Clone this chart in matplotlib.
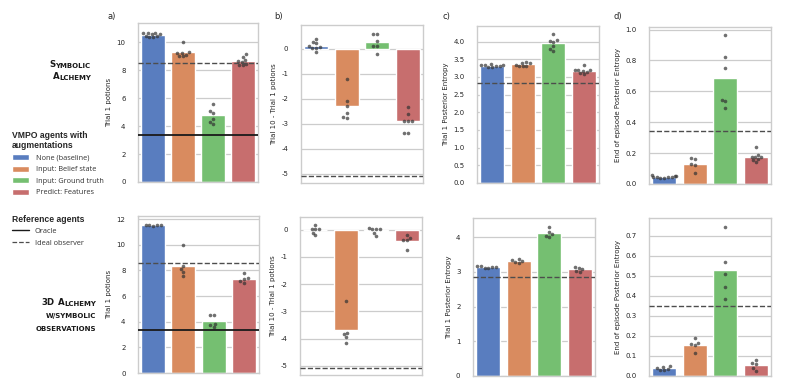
import matplotlib
matplotlib.use("Agg")
import matplotlib.pyplot as plt
import matplotlib.ticker as mticker
import seaborn as sns
import pandas as pd
from matplotlib.patches import Patch
from matplotlib.lines import Line2D

agents = ["None (baseline)", "Input: Belief state", "Input: Ground truth", "Predict: Features"]

# Symbolic Alchemy (top row)
sym_trial1 = [
    [10.62, 10.66, 10.58, 10.45, 10.38, 10.36, 10.42, 10.6, 10.68],
    [10.0, 9.3, 9.25, 9.2, 9.1, 9.0, 9.0],
    [5.55, 5.07, 4.95, 4.52, 4.29, 4.14],
    [9.12, 8.95, 8.75, 8.65, 8.6, 8.45, 8.38, 8.35],
]
sym_diff = [
    [0.4, 0.28, 0.25, 0.1, 0.06, 0.04, 0.02, -0.14],
    [-1.22, -2.08, -2.28, -2.58, -2.72, -2.75],
    [0.6, 0.6, 0.33, 0.12, 0.12, -0.19],
    [-2.32, -2.61, -2.87, -2.87, -2.87, -3.35, -3.37],
]
sym_entropy1 = [
    [3.37, 3.35, 3.33, 3.3, 3.28, 3.27, 3.3, 3.35],
    [3.42, 3.4, 3.38, 3.35, 3.32, 3.3, 3.3],
    [4.21, 4.05, 4.02, 4.0, 3.87, 3.78, 3.73],
    [3.33, 3.2, 3.2, 3.19, 3.18, 3.14, 3.1, 3.07],
]
sym_entropy_end = [
    [0.058, 0.052, 0.048, 0.044, 0.04, 0.042, 0.044, 0.048, 0.054],
    [0.168, 0.16, 0.13, 0.12, 0.072],
    [0.967, 0.822, 0.753, 0.547, 0.54, 0.495],
    [0.24, 0.19, 0.178, 0.175, 0.172, 0.16, 0.155, 0.142],
]

# 3D Alchemy w/ symbolic observations (bottom row)
d3_trial1 = [
    [11.5, 11.48, 11.5, 11.52, 11.5],
    [9.97, 8.34, 8.1, 7.9, 7.54],
    [4.5, 4.5, 3.85, 3.75, 3.6],
    [7.8, 7.38, 7.35, 7.15, 7.05],
]
d3_diff = [
    [0.16, 0.04, 0.03, 0.02, -0.1, -0.2],
    [-2.63, -3.8, -3.82, -3.93, -4.18],
    [0.06, 0.04, 0.03, 0.02, -0.13, -0.24],
    [-0.18, -0.3, -0.37, -0.38, -0.76],
]
d3_entropy1 = [
    [3.18, 3.17, 3.15, 3.12, 3.1, 3.14],
    [3.38, 3.33, 3.3, 3.25, 3.27],
    [4.29, 4.14, 4.08, 4.02, 4.0],
    [3.14, 3.12, 3.08, 3.02, 3.0],
]
d3_entropy_end = [
    [0.05, 0.045, 0.04, 0.035, 0.03, 0.028],
    [0.188, 0.163, 0.158, 0.155, 0.115],
    [0.743, 0.569, 0.51, 0.444, 0.386],
    [0.078, 0.064, 0.058, 0.038, 0.024],
]

oracle_sym = 3.38
oracle_3d = 3.32
ideal_sym = [8.52, -5.08, 2.84, 0.343]
ideal_3d = [8.55, -5.1, 2.84, 0.347]

sns.set_theme(style="whitegrid")
plt.rcParams['font.family'] = ['DejaVu Sans']
plt.rcParams['axes.linewidth'] = 1.0
plt.rcParams['grid.linewidth'] = 0.9

W, H = 789, 387
fig = plt.figure(figsize=(W / 100, H / 100), dpi=100)
palette = sns.color_palette("muted", 4)


def panel(box, values, ylabel, ylim, ticks, ideal, fmt, oracle=None):
    l, t, r, b = box
    ax = fig.add_axes([l / W, 1 - b / H, (r - l) / W, (b - t) / H])
    df = pd.DataFrame({
        "agent": [a for a, v in zip(agents, values) for _ in v],
        "value": [x for v in values for x in v],
    })
    sns.barplot(data=df, x="agent", y="value", hue="agent", palette=palette,
                errorbar=None, ax=ax, legend=False, order=agents)
    sns.swarmplot(data=df, x="agent", y="value", color="0.2", alpha=0.7,
                  size=2.6, ax=ax, order=agents, warn_thresh=1)
    ax.axhline(ideal, color="0.3", ls="--", lw=1.0, zorder=3)
    if oracle is not None:
        ax.axhline(oracle, color="0.1", ls="-", lw=1.3, zorder=3)
    ax.set_ylim(*ylim)
    ax.set_xlim(-0.5, 3.5)
    ax.set_yticks(ticks)
    ax.yaxis.set_major_formatter(mticker.FormatStrFormatter(fmt))
    ax.set_xticks([])
    ax.set_xlabel("")
    ax.set_ylabel(ylabel, fontsize=5, labelpad=3)
    ax.tick_params(axis="y", labelsize=5, pad=3)
    return ax


# top row
panel((138, 23, 258, 182), sym_trial1, "Trial 1 potions", (0, 11.36), [0, 2, 4, 6, 8, 10],
      ideal_sym[0], "%d", oracle_sym)
panel((301, 25, 423, 183), sym_diff, "Trial 10 - Trial 1 potions", (-5.36, 0.95), [-5, -4, -3, -2, -1, 0],
      ideal_sym[1], "%d")
panel((477, 26, 599, 183), sym_entropy1, "Trial 1 Posterior Entropy", (0, 4.44),
      [0, 0.5, 1.0, 1.5, 2.0, 2.5, 3.0, 3.5, 4.0], ideal_sym[2], "%.1f")
panel((649, 27, 771, 184), sym_entropy_end, "End of episode Posterior Entropy", (0, 1.017),
      [0, 0.2, 0.4, 0.6, 0.8, 1.0], ideal_sym[3], "%.1f")
# bottom row
panel((138, 216, 259, 373), d3_trial1, "Trial 1 potions", (0, 12.24), [0, 2, 4, 6, 8, 10, 12],
      ideal_3d[0], "%d", oracle_3d)
panel((300, 217, 422, 375), d3_diff, "Trial 10 - Trial 1 potions", (-5.34, 0.47), [-5, -4, -3, -2, -1, 0],
      ideal_3d[1], "%d")
panel((473, 218, 595, 376), d3_entropy1, "Trial 1 Posterior Entropy", (0, 4.55), [0, 1, 2, 3, 4],
      ideal_3d[2], "%d")
panel((649, 218, 771, 376), d3_entropy_end, "End of episode Posterior Entropy", (0, 0.788),
      [0, 0.1, 0.2, 0.3, 0.4, 0.5, 0.6, 0.7], ideal_3d[3], "%.1f")

# panel letters
for x, lab in [(108, "a)"), (274, "b)"), (442, "c)"), (613, "d)")]:
    fig.text(x / W, 1 - 16 / H, lab, fontsize=6, color="0.15", va="center")

# overlay for small caps row titles
over = fig.add_axes([0, 0, 1, 1])
over.axis("off")
over.set_zorder(-1)


def small_caps(right, base, text, big=6.2, small=5.0, space=2.4):
    # lowercase runs drawn as smaller capitals, chained from the right edge
    pieces = []
    for wi, word in enumerate(text.split(" ")):
        runs = []
        size = small
        for c in word:
            if c.isupper() or c.isdigit():
                size = big
            elif c.islower():
                size = small
            if runs and runs[-1][1] == size:
                runs[-1][0] += c.upper()
            else:
                runs.append([c.upper(), size])
        for ri, (s, sz) in enumerate(runs):
            pieces.append((s, sz, wi > 0 and ri == 0))
    prev = None
    gap_next = False
    for s, sz, gap in reversed(pieces):
        if prev is None:
            prev = over.text(right / W, 1 - base / H, s, fontsize=sz, fontweight="bold",
                             ha="right", va="bottom", color="0.1")
        else:
            off = -space if gap_next else 0.2
            prev = over.annotate(s, xy=(0, 0), xycoords=prev, xytext=(off, 0),
                                 textcoords="offset points", fontsize=sz, fontweight="bold",
                                 ha="right", va="bottom", color="0.1", annotation_clip=False)
        gap_next = gap


small_caps(90, 69, "Symbolic")
small_caps(91, 81, "Alchemy")
small_caps(96, 307, "3D Alchemy")
small_caps(96, 319, "w/symbolic")
small_caps(96, 332, "observations")

lfont = {"family": "Open Sans", "size": 5.3}
tfont = {"family": "Liberation Sans", "size": 6.2, "weight": "bold"}
h1 = [Patch(facecolor=sns.desaturate(c, 0.75)) for c in palette]
leg1 = fig.legend(h1, agents, loc="upper left", bbox_to_anchor=(12 / W, 1 - 130.5 / H),
                  frameon=False, prop=lfont, title="VMPO agents with\naugmentations",
                  title_fontproperties=tfont, borderaxespad=0,
                  alignment="left", borderpad=0, handlelength=2.3, handleheight=0.9,
                  handletextpad=1.0, labelspacing=0.55)
h2 = [Line2D([], [], color="0.1", lw=1.0), Line2D([], [], color="0.3", lw=0.9, ls="--")]
leg2 = fig.legend(h2, ["Oracle", "Ideal observer"], loc="upper left", bbox_to_anchor=(12 / W, 1 - 214.5 / H),
                  frameon=False, prop=lfont, title="Reference agents",
                  title_fontproperties=tfont, borderaxespad=0,
                  alignment="left", borderpad=0, handlelength=2.3, handletextpad=0.8,
                  labelspacing=0.6)
for t in leg1.get_texts() + leg2.get_texts():
    t.set_color("0.2")

fig.savefig("out.png", dpi=100)
